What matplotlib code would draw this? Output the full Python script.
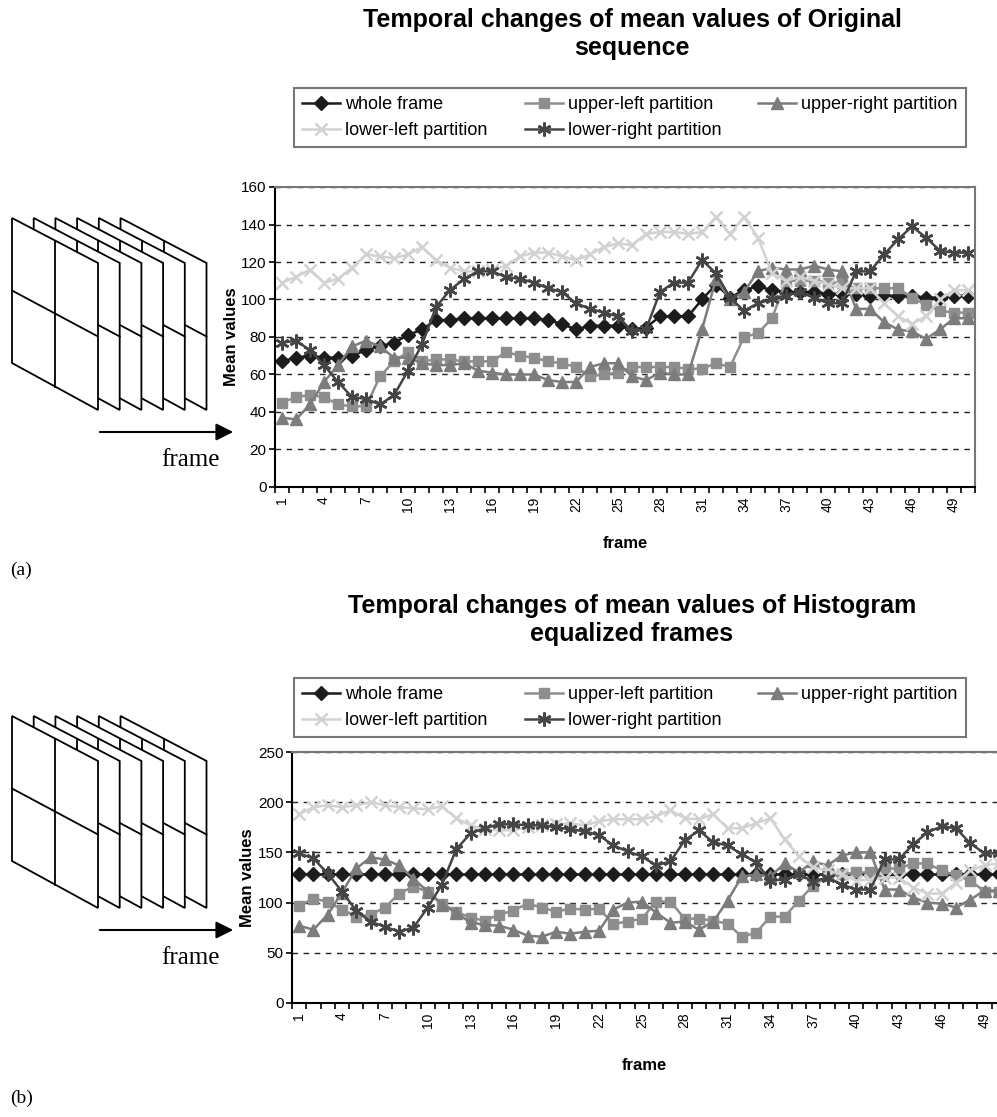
import numpy as np
import matplotlib.pyplot as plt
from matplotlib.patches import Polygon

plt.rcParams['font.family'] = ['Liberation Sans', 'DejaVu Sans']

frames = list(range(1, 51))
series_names = ['whole frame', 'upper-left partition', 'upper-right partition',
                'lower-left partition', 'lower-right partition']

# (a) original sequence
orig_whole = [67, 69, 70, 69, 69, 70, 73, 75, 77, 81, 84, 89, 89, 90, 90, 90, 90, 90, 90, 89,
              87, 84, 86, 86, 86, 84, 85, 91, 91, 91, 100, 108, 101, 105, 107, 105, 104, 104, 104, 103,
              103, 103, 102, 102, 102, 102, 101, 101, 102, 102]
orig_ul = [45, 48, 49, 48, 44, 43, 43, 59, 67, 72, 67, 68, 68, 67, 67, 67, 72, 70, 69, 67,
           66, 64, 59, 60, 61, 64, 64, 64, 64, 63, 63, 66, 64, 80, 82, 90, 110, 110, 110, 109,
           109, 106, 106, 106, 106, 101, 97, 94, 93, 93]
orig_ur = [37, 36, 44, 56, 65, 75, 78, 75, 69, 69, 66, 65, 65, 66, 62, 61, 60, 60, 60, 57,
           56, 56, 64, 66, 66, 59, 57, 61, 60, 60, 84, 111, 100, 104, 115, 117, 116, 116, 118, 116,
           115, 95, 95, 88, 84, 83, 79, 84, 90, 90]
orig_ll = [109, 112, 116, 109, 111, 117, 124, 123, 122, 124, 128, 121, 117, 115, 115, 116, 118, 123, 125, 125,
           123, 121, 124, 128, 130, 129, 135, 136, 136, 135, 136, 144, 135, 144, 133, 114, 110, 112, 110, 108,
           106, 106, 106, 98, 91, 87, 91, 100, 105, 105]
orig_lr = [77, 78, 73, 65, 56, 48, 47, 44, 49, 62, 76, 96, 105, 111, 115, 115, 112, 111, 109, 106,
           104, 98, 95, 93, 91, 83, 84, 104, 109, 109, 121, 114, 101, 94, 98, 100, 102, 104, 101, 98,
           98, 115, 115, 124, 132, 139, 133, 126, 125, 125]

# (b) histogram equalized frames
eq_whole = [128, 128, 128, 128, 128, 128, 128, 128, 128, 128, 128, 128, 128, 128, 128, 128, 128, 128, 128, 128,
            128, 128, 128, 128, 128, 128, 128, 128, 128, 128, 128, 128, 128, 128, 128, 128, 128, 128, 128, 128,
            128, 128, 128, 128, 128, 128, 128, 128, 128, 128]
eq_ul = [97, 104, 101, 93, 86, 88, 95, 109, 116, 111, 99, 91, 85, 82, 88, 92, 99, 95, 91, 94,
         93, 94, 79, 81, 84, 101, 101, 84, 84, 82, 79, 66, 70, 86, 86, 102, 117, 126, 128, 130,
         130, 134, 134, 139, 139, 132, 127, 122, 111, 111]
eq_ur = [77, 73, 88, 110, 134, 145, 143, 137, 124, 111, 98, 90, 80, 78, 77, 73, 67, 66, 71, 69,
         71, 72, 93, 100, 101, 90, 80, 81, 73, 81, 102, 126, 128, 126, 139, 130, 141, 137, 147, 150,
         150, 113, 113, 105, 100, 99, 95, 103, 112, 112]
eq_ll = [188, 195, 197, 195, 197, 200, 197, 195, 194, 193, 196, 184, 177, 173, 172, 172, 175, 177, 178, 179,
         177, 181, 183, 183, 183, 186, 192, 184, 183, 188, 174, 174, 179, 184, 163, 146, 135, 132, 128, 122,
         123, 125, 125, 115, 109, 109, 120, 132, 137, 139]
eq_lr = [149, 144, 129, 111, 92, 81, 76, 71, 75, 95, 118, 153, 169, 174, 178, 178, 177, 177, 175, 173,
         171, 167, 157, 151, 146, 137, 141, 162, 172, 160, 157, 148, 140, 122, 123, 128, 121, 125, 118, 113,
         113, 143, 143, 158, 170, 176, 174, 159, 149, 149]

markers = ['D', 's', '^', 'x', (6, 2, 0)]
colors = ['#1c1c1c', '#8e8e8e', '#7c7c7c', '#d2d2d2', '#454545']
msizes = [7, 7.5, 8.5, 8, 10]

W, H = 997, 1117
fig = plt.figure(figsize=(W / 100, H / 100), dpi=100)


def box(x0, y0, x1, y1):
    return [x0 / W, 1 - y1 / H, (x1 - x0) / W, (y1 - y0) / H]


def panel(rect, data, ymax, ystep, title, leg_rect, ylab_x, xlab_y):
    ax = fig.add_axes(box(*rect))
    handles = []
    for name, vals, m, c, ms in zip(series_names, data, markers, colors, msizes):
        h, = ax.plot(frames, vals, color=c, lw=1.8, marker=m, ms=ms,
                     mec=c, mfc=c, mew=1.8 if m in ('x', (6, 2, 0)) else 1, label=name)
        handles.append(h)
    ax.set_xlim(0.5, 50.5)
    ax.set_ylim(0, ymax)
    ax.set_yticks(np.arange(0, ymax + 1, ystep))
    ax.yaxis.grid(True, linestyle=(0, (4, 4)), color='#222222', lw=1)
    ax.set_axisbelow(True)
    ax.set_xticks(np.arange(0.5, 51, 1))
    ax.set_xticklabels([])
    ax.set_xticks(frames[::3], minor=True)
    ax.set_xticklabels([str(f) for f in frames[::3]], minor=True, rotation=90)
    ax.tick_params(which='major', length=4, width=1.2, direction='out', pad=2)
    ax.tick_params(which='minor', length=0, pad=7)
    ax.tick_params(labelsize=11)
    for s in ('left', 'bottom'):
        ax.spines[s].set_color('black')
        ax.spines[s].set_linewidth(1.5)
    for s in ('top', 'right'):
        ax.spines[s].set_color('#777777')
        ax.spines[s].set_linewidth(1.5)
    fig.text(632 / W, 1 - title[1] / H, title[0], ha='center', va='center',
             fontsize=18, fontweight='bold', linespacing=1.25)
    fig.text(ylab_x / W, 1 - (rect[1] + rect[3]) / 2 / H, 'Mean values', rotation=90,
             ha='center', va='center', fontsize=12, fontweight='bold')
    fig.text(((rect[0] + min(rect[2], W)) / 2) / W, 1 - xlab_y / H, 'frame', ha='center',
             va='center', fontsize=12, fontweight='bold')
    order = [0, 3, 1, 4, 2]
    leg = fig.legend([handles[i] for i in order], [series_names[i] for i in order],
                     ncol=3, mode='expand', loc='center',
                     bbox_to_anchor=box(*leg_rect), fontsize=13, frameon=True,
                     fancybox=False, handlelength=2.1, handletextpad=0.3,
                     borderpad=0.45, labelspacing=0.5, columnspacing=0.5)
    leg.get_frame().set_edgecolor('#555555')
    leg.get_frame().set_linewidth(1.5)
    return ax


panel((275, 187, 975, 487), [orig_whole, orig_ul, orig_ur, orig_ll, orig_lr], 160, 20,
      ('Temporal changes of mean values of Original\nsequence', 34),
      (285, 86, 975, 149), 231, 543)
panel((292, 752, 1006, 1003), [eq_whole, eq_ul, eq_ur, eq_ll, eq_lr], 250, 50,
      ('Temporal changes of mean values of Histogram\nequalized frames', 620),
      (285, 675, 975, 740), 247, 1066)

# frame-stack sketches on the left
deco = fig.add_axes([0, 0, 1, 1], zorder=-1)
deco.set_xlim(0, W)
deco.set_ylim(H, 0)
deco.axis('off')
for oy in (0, 498):
    for k in range(5, -1, -1):
        dx = 21.7 * k
        z = 2 * (6 - k)
        x0, x1 = 12 + dx, 98 + dx
        pts = [(x0, 218 + oy), (x1, 263 + oy), (x1, 410 + oy), (x0, 363 + oy)]
        deco.add_patch(Polygon(pts, closed=True, fc='white', ec='black', lw=1.3, zorder=z))
        deco.plot([x0, x1], [290.5 + oy, 336.5 + oy], color='black', lw=1.3, zorder=z + 1)
        xm = (x0 + x1) / 2
        deco.plot([xm, xm], [240.5 + oy, 386.5 + oy], color='black', lw=1.3, zorder=z + 1)
    deco.annotate('', xy=(236, 432 + oy), xytext=(97, 432 + oy),
                  arrowprops=dict(arrowstyle='-|>', mutation_scale=26, lw=1.5, color='black'))
    deco.text(190, 460 + oy, 'frame', ha='center', va='center', fontsize=18,
              family=['Liberation Serif', 'DejaVu Serif'])
deco.text(10, 570, '(a)', ha='left', va='center', fontsize=14, family=['Liberation Serif', 'DejaVu Serif'])
deco.text(10, 1098, '(b)', ha='left', va='center', fontsize=14, family=['Liberation Serif', 'DejaVu Serif'])

fig.savefig('out.png', dpi=100)
